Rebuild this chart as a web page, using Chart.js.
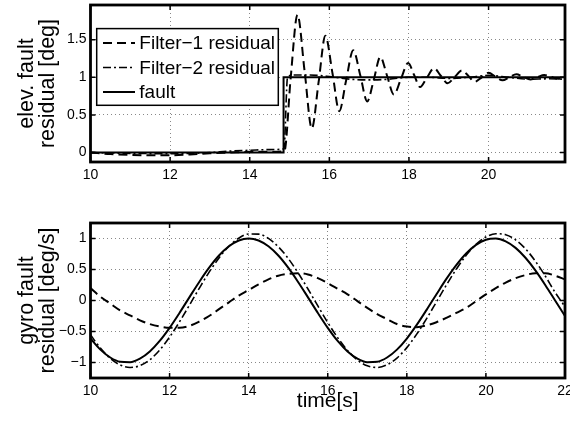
<!DOCTYPE html>
<html><head><meta charset="utf-8">
<script src="https://cdn.jsdelivr.net/npm/chart.js@4.4.1/dist/chart.umd.min.js"></script>
<style>
html,body{margin:0;padding:0;background:#fff;}
#wrap{position:relative;width:570px;height:426px;overflow:hidden;background:#fff;}
canvas{position:absolute;left:0;}
#c1{top:0;}
#c2{top:195px;}
</style></head><body>
<div id="wrap">
<canvas id="c1" width="570" height="190"></canvas>
<canvas id="c2" width="570" height="231"></canvas>
</div>
<script>
// ---------- data ----------
const seriesNames = ['Filter\u22121 residual', 'Filter\u22122 residual', 'fault'];

// top panel: elevator fault
const topTimeF1 = [10,10.5,11,11.5,12,12.5,13,13.5,14,14.5,14.87,15.03,15.2,15.38,15.56,15.73,15.9,16.08,16.25,16.42,16.6,16.78,16.95,17.12,17.28,17.45,17.62,17.8,17.98,18.13,18.28,18.45,18.63,18.8,18.97,19.15,19.33,19.5,19.65,19.83,20.0,20.17,20.35,20.52,20.7,20.87,21.05,21.22,21.4,21.57,21.75,21.92];
const topF1 = [0,-0.02,-0.03,-0.035,-0.035,-0.025,-0.01,0,0.01,0.01,0.02,1.0,1.83,1.075,0.32,0.935,1.55,1.05,0.55,0.955,1.36,1.02,0.68,0.975,1.27,1.02,0.77,0.98,1.19,1.03,0.87,0.995,1.12,1.02,0.92,1.005,1.09,1.015,0.94,1.0,1.06,1.01,0.96,1.0,1.04,1.005,0.97,1.0,1.03,1.005,0.98,1.01];
const topTimeF2 = [10,11,12,12.5,13,13.5,14,14.5,14.86,14.95,15.1,15.5,16,16.5,17,17.5,18,18.5,19,19.5,20,20.5,21,21.5,21.92];
const topF2 = [0,-0.01,-0.015,-0.01,0,0.02,0.03,0.04,0.05,1.0,1.03,1.03,1.01,0.975,0.965,0.975,1.0,1.0,0.985,1.0,1.025,1.0,0.975,0.98,0.975];
const topTimeFault = [10,14.85,14.85,21.92];
const topFault = [0,0,1,1];
const topTicksX = [10,12,14,16,18,20];
const topTicksY = [0,0.5,1,1.5];

// bottom panel: gyro fault
const botTime = [10,10.25,10.5,10.75,11,11.25,11.5,11.75,12,12.25,12.5,12.75,13,13.25,13.5,13.75,14,14.25,14.5,14.75,15,15.25,15.5,15.75,16,16.25,16.5,16.75,17,17.25,17.5,17.75,18,18.25,18.5,18.75,19,19.25,19.5,19.75,20,20.25,20.5,20.75,21,21.25,21.5,21.75,22];
const botF1 = [0.20,0.06,-0.05,-0.16,-0.24,-0.32,-0.38,-0.42,-0.44,-0.44,-0.41,-0.34,-0.25,-0.14,-0.03,0.08,0.17,0.26,0.34,0.40,0.43,0.44,0.42,0.36,0.28,0.19,0.10,-0.01,-0.12,-0.22,-0.30,-0.38,-0.42,-0.43,-0.40,-0.35,-0.28,-0.20,-0.12,-0.01,0.10,0.20,0.29,0.36,0.41,0.44,0.44,0.40,0.34];
const botF2 = [-0.553,-0.768,-0.933,-1.040,-1.080,-1.051,-0.955,-0.798,-0.590,-0.345,-0.077,0.196,0.457,0.687,0.874,1.005,1.072,1.071,1.001,0.867,0.678,0.446,0.185,-0.088,-0.355,-0.599,-0.805,-0.960,-1.053,-1.080,-1.037,-0.928,-0.760,-0.543,-0.292,-0.022,0.249,0.504,0.728,0.905,1.024,1.077,1.062,0.979,0.834,0.635,0.396,0.131,-0.10];
const botFault = [-0.613,-0.792,-0.919,-0.988,-0.995,-0.938,-0.822,-0.652,-0.441,-0.201,0.051,0.299,0.529,0.725,0.874,0.968,1.000,0.968,0.874,0.725,0.529,0.299,0.051,-0.201,-0.441,-0.652,-0.822,-0.938,-0.995,-0.988,-0.919,-0.792,-0.613,-0.394,-0.151,0.101,0.348,0.571,0.759,0.898,0.980,0.999,0.954,0.849,0.689,0.486,0.251,0.000,-0.251];
const botTicksX = [10,12,14,16,18,20,22];
const botTicksY = [-1,-0.5,0,0.5,1];

// ---------- styling ----------
const FONT = "'Liberation Sans', Arial, Helvetica, sans-serif";
const lineStyles = [
  {dash:[9,5], width:2},
  {dash:[8,3,2,3], width:1.6},
  {dash:[], width:2}
];
const fmt = v => (v < 0 ? '\u2212' + Math.abs(v) : String(v));
const pts = (xs, ys) => xs.map((x, i) => ({x: x, y: ys[i]}));

function mkDataset(i, xs, ys, interp) {
  return {
    label: seriesNames[i],
    data: pts(xs, ys),
    borderColor: '#000',
    borderWidth: lineStyles[i].width,
    borderDash: lineStyles[i].dash,
    pointRadius: 0,
    fill: false,
    tension: interp ? 0.4 : 0,
    cubicInterpolationMode: interp ? 'monotone' : 'default'
  };
}

const framePlugin = {
  id: 'frame',
  afterDatasetsDraw(chart) {
    const {ctx, chartArea: a, scales: {x, y}} = chart;
    ctx.save();
    ctx.setLineDash([]);
    ctx.strokeStyle = '#000';
    ctx.lineWidth = 1.5;
    const L = 5;
    ctx.beginPath();
    x.ticks.forEach(t => {
      const px = x.getPixelForValue(t.value);
      ctx.moveTo(px, a.bottom); ctx.lineTo(px, a.bottom - L);
      ctx.moveTo(px, a.top); ctx.lineTo(px, a.top + L);
    });
    y.ticks.forEach(t => {
      const py = y.getPixelForValue(t.value);
      ctx.moveTo(a.left, py); ctx.lineTo(a.left + L, py);
      ctx.moveTo(a.right, py); ctx.lineTo(a.right - L, py);
    });
    ctx.stroke();
    ctx.lineWidth = 2.8;
    ctx.strokeRect(a.left, a.top, a.right - a.left, a.bottom - a.top);
    ctx.restore();
  }
};

const legendPlugin = {
  id: 'boxLegend',
  afterDraw(chart) {
    const {ctx, chartArea: a} = chart;
    const bx = a.left + 6.2, by = a.top + 23.6, bw = 181.6, bh = 76.7;
    ctx.save();
    ctx.fillStyle = '#fff';
    ctx.fillRect(bx, by, bw, bh);
    ctx.strokeStyle = '#000';
    ctx.lineWidth = 1.5;
    ctx.setLineDash([]);
    ctx.strokeRect(bx, by, bw, bh);
    ctx.font = '19px ' + FONT;
    ctx.textBaseline = 'middle';
    ctx.fillStyle = '#000';
    chart.data.datasets.forEach((ds, i) => {
      const cy = by + 14.4 + i * 24.5;
      ctx.beginPath();
      ctx.setLineDash(ds.borderDash || []);
      ctx.lineWidth = ds.borderWidth;
      ctx.moveTo(bx + 6.3, cy);
      ctx.lineTo(bx + 38.3, cy);
      ctx.stroke();
      ctx.setLineDash([]);
      ctx.fillText(ds.label, bx + 42.6, cy + 1);
    });
    ctx.restore();
  }
};

function makeChart(id, datasets, xr, yr, xTicks, yTicks, yTitle, xTitle, padTop, xHeight, plugins) {
  return new Chart(document.getElementById(id), {
    type: 'line',
    data: {datasets: datasets},
    options: {
      responsive: false,
      animation: false,
      events: [],
      layout: {padding: {top: padTop, right: 5, left: 0, bottom: 0}},
      plugins: {legend: {display: false}, tooltip: {enabled: false}},
      scales: {
        x: {
          type: 'linear', min: xr[0], max: xr[1],
          afterBuildTicks: s => { s.ticks = xTicks.map(v => ({value: v})); },
          afterFit: s => { s.height = xHeight; s.paddingLeft = 0; s.paddingRight = 0; },
          grid: {color: '#888', lineWidth: 1, drawTicks: false},
          border: {display: false, dash: [1, 3]},
          ticks: {color: '#000', font: {family: FONT, size: 14}, padding: 5, maxRotation: 0, autoSkip: false,
                  callback: v => fmt(v)},
          title: xTitle ? {display: true, text: xTitle, color: '#000',
                  font: {family: FONT, size: 21, lineHeight: 1.2}, padding: {top: 0, bottom: 12.5}} : {display: false}
        },
        y: {
          type: 'linear', min: yr[0], max: yr[1],
          afterBuildTicks: s => { s.ticks = yTicks.map(v => ({value: v})); },
          afterFit: s => { s.width = 90.5; s.paddingTop = 0; s.paddingBottom = 0; },
          grid: {color: '#888', lineWidth: 1, drawTicks: false},
          border: {display: false, dash: [1, 3]},
          ticks: {color: '#000', font: {family: FONT, size: 14}, padding: 4, autoSkip: false,
                  callback: v => fmt(v)},
          title: {display: true, text: yTitle, color: '#000',
                  font: {family: FONT, size: 21.5, lineHeight: 0.98}, padding: {top: 16.5, bottom: 0}}
        }
      }
    },
    plugins: plugins
  });
}

makeChart('c1', [
    mkDataset(0, topTimeF1, topF1, true),
    mkDataset(1, topTimeF2, topF2, true),
    mkDataset(2, topTimeFault, topFault, false)
  ], [10, 21.92], [-0.125, 1.96], topTicksX, topTicksY,
  ['elev. fault', 'residual [deg]'], null, 5, 28, [framePlugin, legendPlugin]);

makeChart('c2', [
    mkDataset(0, botTime, botF1, true),
    mkDataset(1, botTime, botF2, true),
    mkDataset(2, botTime, botFault, true)
  ], [10, 22], [-1.25, 1.25], botTicksX, botTicksY,
  ['gyro fault', 'residual [deg/s]'], 'time[s]', 28, 48, [framePlugin]);
</script>
</body></html>
